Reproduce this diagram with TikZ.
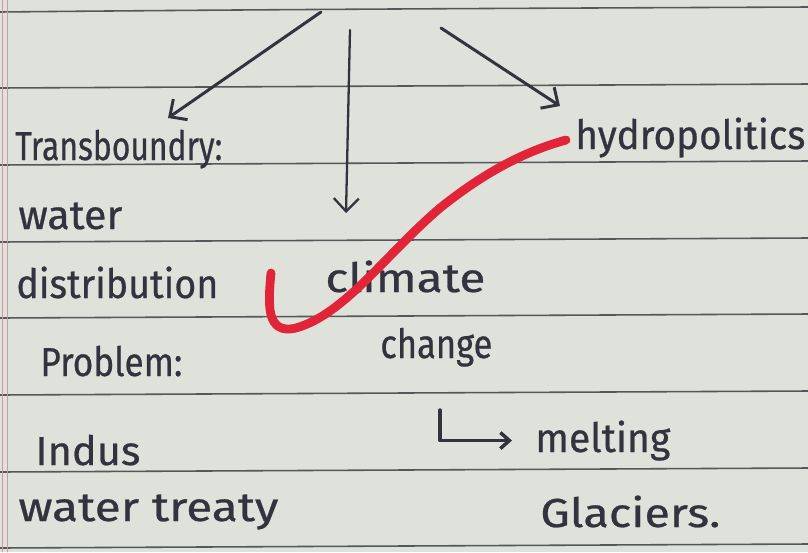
\documentclass[tikz,border=0pt]{standalone}
\usepackage{fontspec}
\setmainfont{Fira Sans}
\usetikzlibrary{arrows.meta}

\definecolor{paper}{RGB}{222,226,219}
\definecolor{rule}{RGB}{85,88,88}
\definecolor{ink}{RGB}{52,50,62}
\definecolor{redink}{RGB}{226,36,56}
\definecolor{margin}{RGB}{214,150,160}

% one pixel of the page
\newlength\pxu
\setlength\pxu{0.02cm}
% handwriting: keep the height, squeeze to the written width
\newcommand\hand[2]{\resizebox{#1\pxu}{\height}{#2}}

\begin{document}
\begin{tikzpicture}[
    x=0.02cm, y=-0.02cm,
    line cap=round,
    line join=round,
    every node/.style={font=\fontsize{23}{23}\selectfont\addfontfeature{FakeBold=0.6},
      text=ink, inner sep=0pt, anchor=base west},
    pen/.style={ink, line width=1.7pt},
    bigtip/.style={-{Straight Barb[length=2.6mm,width=5mm]}},
    smalltip/.style={-{Straight Barb[length=1.8mm,width=3.2mm]}}
]

% -----------------------------
% The page
% -----------------------------
\fill[paper] (0,0) rectangle (808,552);
\useasboundingbox (0,0) rectangle (808,552);

\draw[rule, line width=0.9pt] (0,12) .. controls (300,9) and (600,8) .. (808,7);
\foreach \y in {88,165,242,318,395,472,548}
  \draw[rule, line width=0.9pt] (0,\y) -- (808,\y-4);

\draw[margin, line width=0.5pt] (2,0) -- (2,552);
\draw[margin, line width=0.5pt] (7,0) -- (7,552);

% -----------------------------
% Left column
% -----------------------------
\node (trans) at (15,160) {\hand{207}{Transboundry:}};
\node (water) at (18,229) {\hand{104}{water}};
\node (distr) at (16,298) {\hand{202}{distribution}};
\node (probl) at (40,376) {\hand{142}{Problem:}};
\node (indus) at (35,465) {\hand{105}{Indus}};
\node (treaty) at (18,521) {\hand{260}{water treaty}};

% -----------------------------
% Middle and right
% -----------------------------
\node (hydro) at (575,149) {\hand{230}{hydropolitics}};
\node (clim) at (325,292) {\hand{160}{climate}};
\node (chg) at (380,358) {\hand{112}{change}};
\node (melt) at (535,452) {\hand{135}{melting}};
\node (glac) at (540,527) {\hand{180}{Glaciers.}};

% -----------------------------
% Arrows from the top
% -----------------------------
\coordinate (srcl) at (321,12);
\coordinate (srcm) at (350,30);
\coordinate (srcr) at (441,28);
\coordinate (tipl) at (168,118);
\coordinate (tipm) at (346,213);
\coordinate (tipr) at (560,106);

\draw[pen, bigtip] (srcl) -- (tipl);
\draw[pen, line width=1.3pt, bigtip] (srcm) -- (tipm);
\draw[pen, bigtip] (srcr) -- (tipr);

% change -> melting
\coordinate (hook) at (440,410);
\draw[pen, line width=2pt, smalltip] (hook) |- ([xshift=-0.46cm]melt.west);

% -----------------------------
% Red tick
% -----------------------------
\draw[redink, line width=5pt]
(271,273)
.. controls (268,305) and (266,335) .. (296,328)
.. controls (345,314) and (385,255) .. (440,208)
.. controls (490,168) and (530,150) .. (566,140);

\end{tikzpicture}
\end{document}
